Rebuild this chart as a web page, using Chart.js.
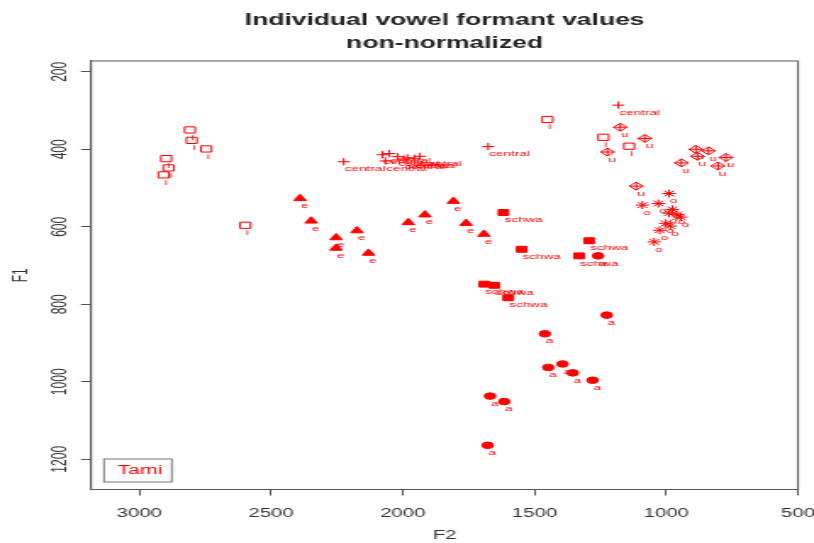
<!DOCTYPE html>
<html>
<head>
<meta charset="utf-8">
<script src="https://cdn.jsdelivr.net/npm/chart.js@4"></script>
<style>
  body { margin: 0; background: #fff; }
  /* the reference is an R plot stretched sideways, so draw narrow and stretch */
  #wrap { width: 480px; height: 543px; transform: scaleX(1.69583); transform-origin: 0 0; }
</style>
</head>
<body>
<div id="wrap"><canvas id="chart" width="480" height="543"></canvas></div>
<script>
// F2 (x) and F1 (y) per vowel
const iF2 = [2808, 2801, 2746, 2898, 2889, 2908, 2598, 1451, 1239, 1141];
const iF1 = [350, 377, 399, 424, 448, 466, 596, 323, 369, 392];

const eF2 = [2390, 2348, 2253, 2253, 2174, 2130, 1979, 1916, 1808, 1760, 1692];
const eF1 = [527, 585, 628, 655, 610, 668, 589, 569, 534, 591, 619];

const centralF2 = [2224, 2077, 2066, 2051, 2020, 1996, 1982, 1956, 1935, 1676, 1182];
const centralF1 = [432, 414, 430, 411, 419, 425, 422, 423, 418, 393, 286];

const schwaF2 = [1618, 1549, 1293, 1331, 1691, 1653, 1600];
const schwaF1 = [563, 658, 636, 675, 748, 751, 783];

const aF2 = [1259, 1226, 1461, 1448, 1394, 1355, 1280, 1669, 1615, 1678];
const aF1 = [675, 828, 876, 963, 954, 977, 996, 1037, 1051, 1164];

const uF2 = [1175, 1082, 1223, 888, 840, 882, 774, 943, 804, 1114];
const uF1 = [343, 372, 407, 400, 404, 418, 421, 435, 443, 495];

const oF2 = [990, 1091, 1030, 977, 990, 960, 945, 1002, 985, 1025, 1046];
const oF1 = [514, 544, 540, 555, 565, 568, 575, 591, 598, 609, 639];

const xTicks = [500, 1000, 1500, 2000, 2500, 3000];
const yTicks = [200, 400, 600, 800, 1000, 1200];
const speaker = 'Tami';

function pts(xs, ys) {
  return xs.map((x, i) => ({ x: x, y: ys[i] }));
}

function series(tag, xs, ys, style, radius, filled) {
  return {
    tag: tag,
    data: pts(xs, ys),
    pointStyle: style,
    pointRadius: radius,
    pointBorderColor: 'red',
    pointBackgroundColor: filled ? 'red' : 'rgba(0,0,0,0)',
    pointBorderWidth: 1,
    showLine: false
  };
}

const extras = {
  id: 'extras',
  afterDatasetsDraw(chart) {
    const ctx = chart.ctx;
    const area = chart.chartArea;
    ctx.save();
    // vowel tags next to each point
    ctx.font = '8px "Liberation Sans", Arial, sans-serif';
    ctx.fillStyle = 'red';
    ctx.textAlign = 'left';
    ctx.textBaseline = 'middle';
    chart.data.datasets.forEach((ds, i) => {
      if (!ds.tag) return;
      chart.getDatasetMeta(i).data.forEach((p) => {
        ctx.fillText(ds.tag, p.x + 0.5, p.y + 7.5);
      });
    });
    // plot box
    ctx.strokeStyle = '#555';
    ctx.lineWidth = 1;
    ctx.strokeRect(area.left, area.top, area.right - area.left, area.bottom - area.top);
    // speaker legend, bottom left
    const lx = area.left + 7.6, ly = area.bottom - 30.5;
    ctx.strokeStyle = '#777';
    ctx.strokeRect(lx, ly, 40, 23);
    ctx.font = '12.5px "Liberation Sans", Arial, sans-serif';
    ctx.fillText(speaker, lx + 8, ly + 12);
    ctx.restore();
  }
};

Chart.defaults.font.family = '"Liberation Sans", Arial, sans-serif';
Chart.defaults.color = '#333';

const plain = (v) => String(v);

new Chart(document.getElementById('chart'), {
  type: 'scatter',
  data: {
    datasets: [
      series('i', iF2, iF1, 'rect', 4.4, false),
      series('e', eF2, eF1, 'triangle', 4.2, true),
      series('central', centralF2, centralF1, 'cross', 3.6, false),
      series('schwa', schwaF2, schwaF1, 'rect', 4.2, true),
      series('a', aF2, aF1, 'circle', 3.3, true),
      series('u', uF2, uF1, 'rectRot', 4, false),
      series(null, uF2, uF1, 'cross', 4, false),
      series('o', oF2, oF1, 'star', 4, false)
    ]
  },
  options: {
    responsive: false,
    animation: false,
    devicePixelRatio: 1,
    layout: { padding: { left: 0, right: 9.4, top: 0, bottom: 0 } },
    plugins: {
      legend: { display: false },
      tooltip: { enabled: false },
      title: {
        display: true,
        fullSize: false,
        text: ['Individual vowel formant values', 'non-normalized'],
        color: '#222',
        font: { size: 15.6, weight: 'bold', lineHeight: 1.48 },
        padding: { top: 9.5, bottom: 5.3 }
      }
    },
    scales: {
      x: {
        type: 'linear',
        reverse: true,
        min: 500,
        max: 3183,
        afterBuildTicks: (s) => { s.ticks = xTicks.map((v) => ({ value: v })); },
        afterFit: (s) => { s.height = 53.5; },
        grid: { display: true, drawOnChartArea: false, drawTicks: true, tickLength: 6, color: '#555' },
        border: { display: true, color: '#555' },
        ticks: { font: { size: 12 }, color: '#333', padding: 11, maxRotation: 0, autoSkip: false, callback: plain },
        title: { display: true, text: 'F2', font: { size: 12 }, color: '#333', padding: { top: 0, bottom: 0 } }
      },
      y: {
        type: 'linear',
        reverse: true,
        min: 172,
        max: 1278,
        afterBuildTicks: (s) => { s.ticks = yTicks.map((v) => ({ value: v })); },
        afterFit: (s) => { s.width = 53.7; },
        grid: { display: true, drawOnChartArea: false, drawTicks: true, tickLength: 6, color: '#555' },
        border: { display: true, color: '#555' },
        ticks: { font: { size: 12 }, color: '#333', padding: -1, minRotation: 90, maxRotation: 90, crossAlign: 'center', autoSkip: false, callback: plain },
        title: { display: true, text: 'F1', font: { size: 12 }, color: '#333', padding: { top: 5.8, bottom: 0 } }
      }
    }
  },
  plugins: [extras]
});
</script>
</body>
</html>
